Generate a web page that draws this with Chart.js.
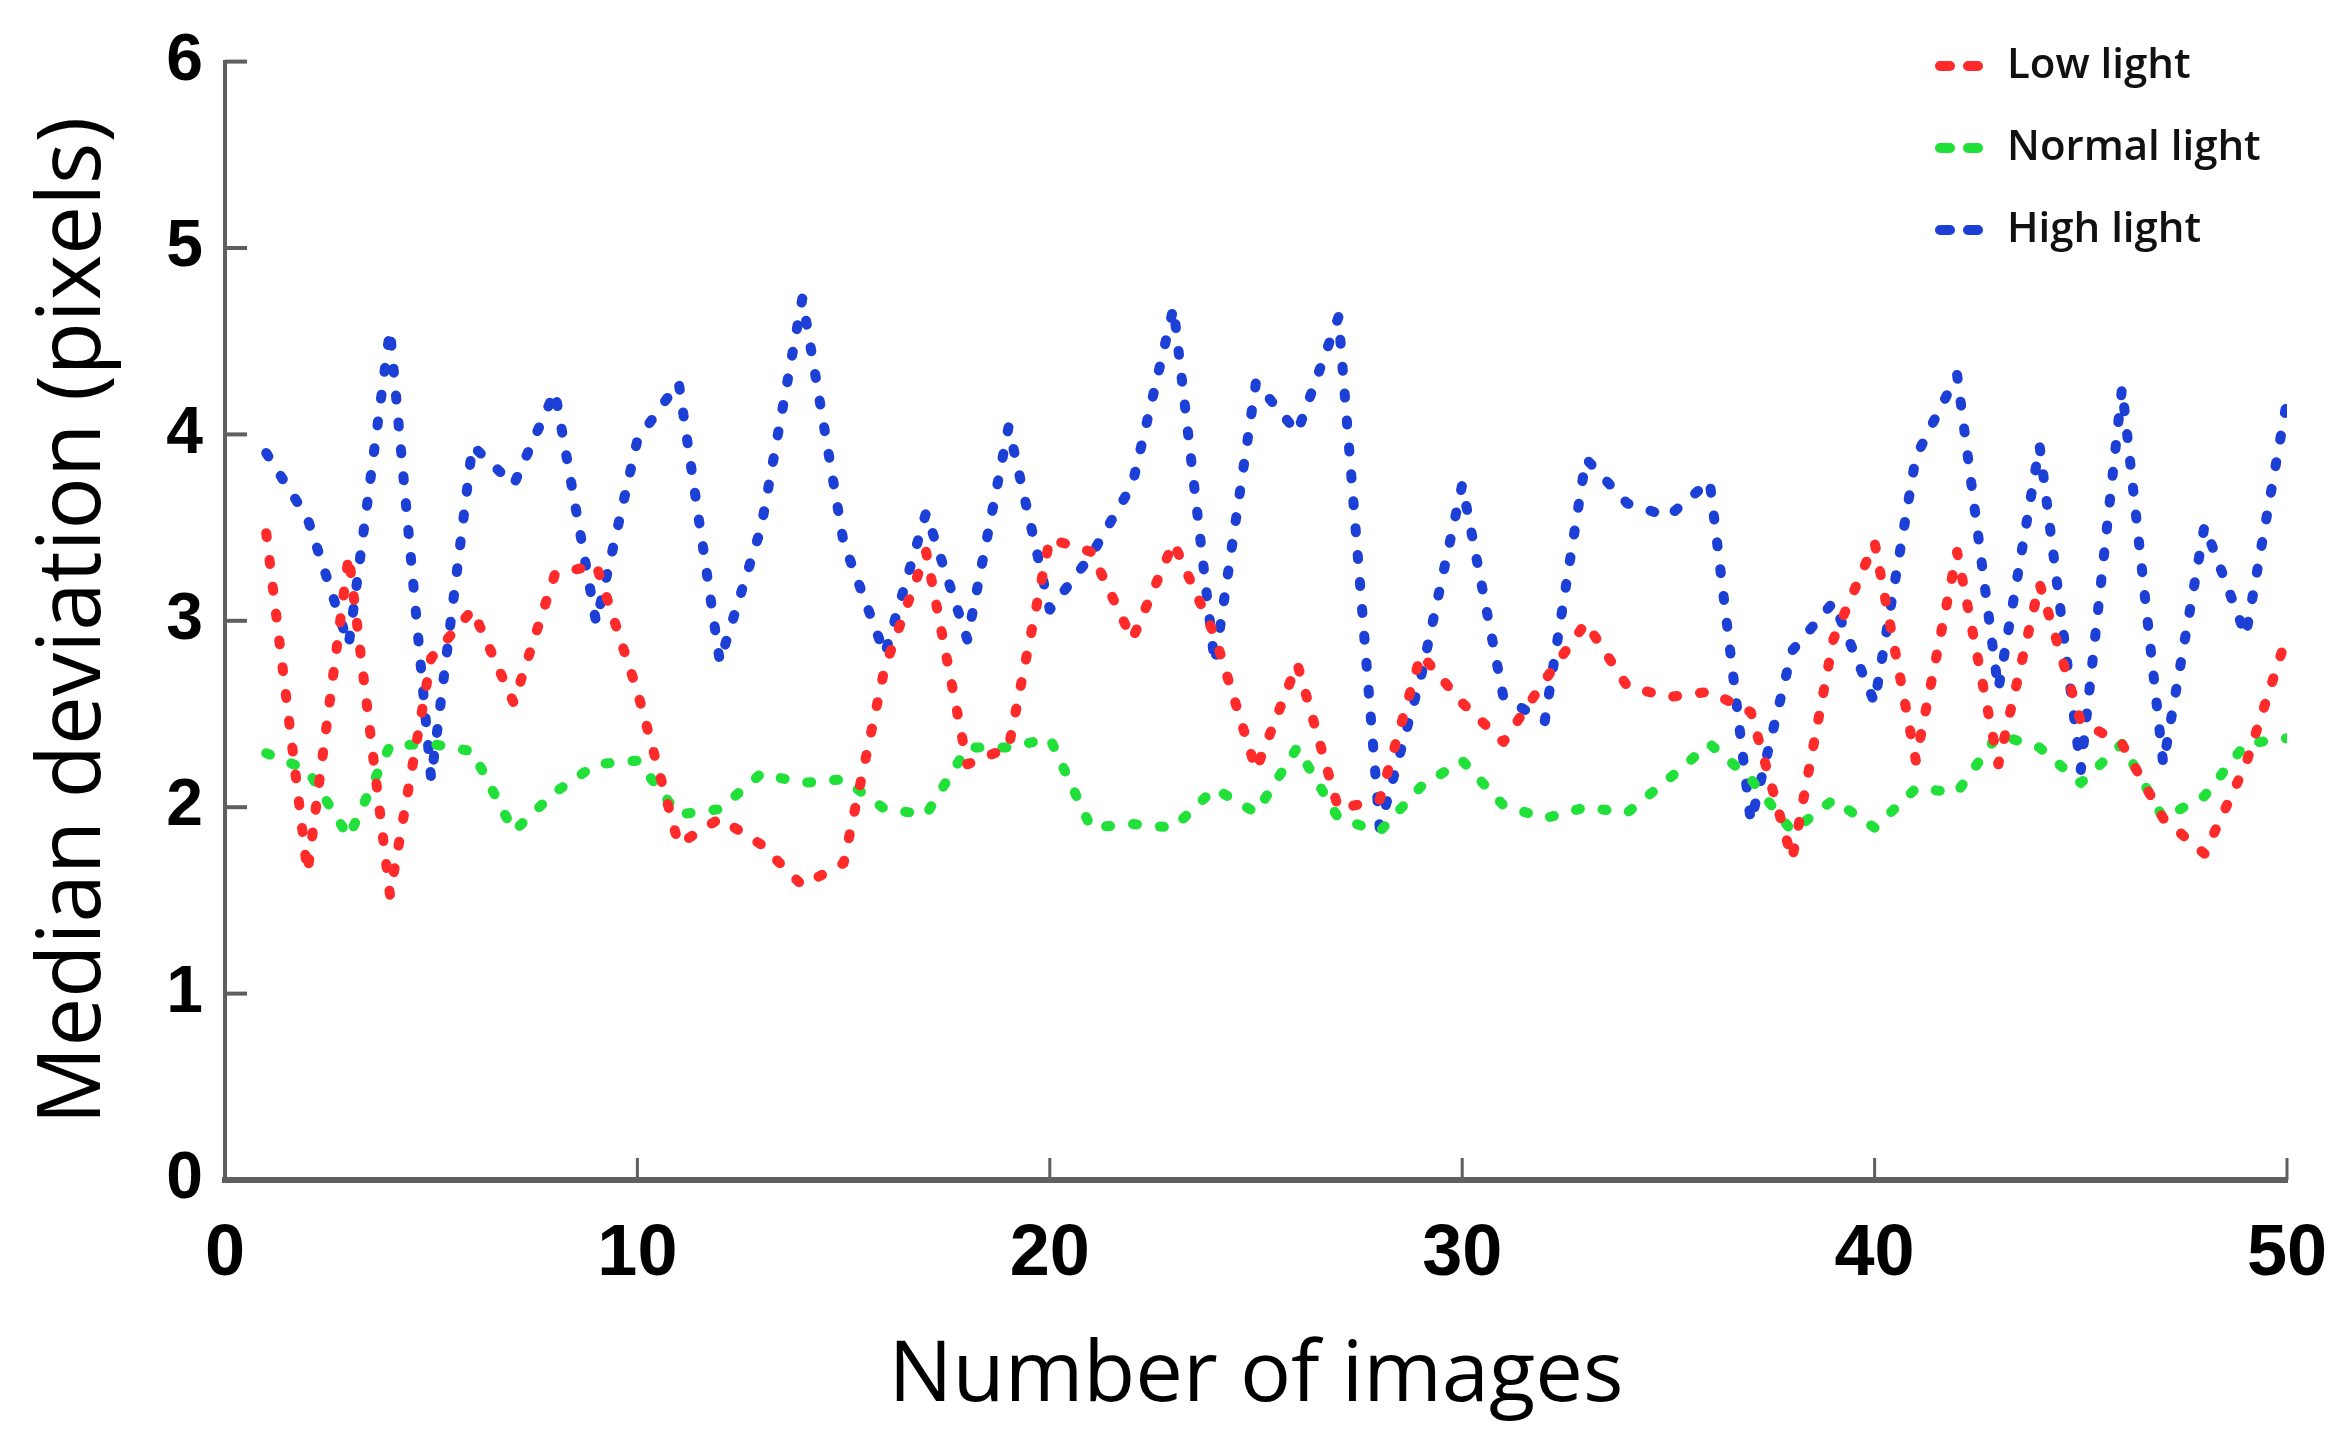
<!DOCTYPE html>
<html>
<head>
<meta charset="utf-8">
<script src="https://cdn.jsdelivr.net/npm/chart.js@4.4.1/dist/chart.umd.min.js"></script>
<style>
  html, body { margin: 0; padding: 0; background: #fff; overflow: hidden; }
  #wrap { width: 2351px; height: 1453px; position: relative; }
  canvas { display: block; }
</style>
</head>
<body>
<div id="wrap"><canvas id="devChart"></canvas></div>
<script>
// values, one per image count
const imageCounts = [1, 2, 3, 4, 5, 6, 7, 8, 9, 10, 11, 12, 13, 14, 15, 16, 17, 18, 19, 20,
    21, 22, 23, 24, 25, 26, 27, 28, 29, 30, 31, 32, 33, 34, 35, 36, 37, 38, 39, 40,
    41, 42, 43, 44, 45, 46, 47, 48, 49, 50];
const lowLight = [3.47, 1.65, 3.35, 1.53, 2.8, 3.06, 2.56, 3.25, 3.3, 2.62,
    1.8, 1.94, 1.8, 1.58, 1.7, 2.75, 3.37, 2.23, 2.32, 3.44,
    3.37, 2.9, 3.42, 2.92, 2.2, 2.77, 1.99, 2.04, 2.82, 2.56,
    2.35, 2.68, 2.99, 2.65, 2.59, 2.62, 2.51, 1.72, 2.9, 3.42,
    2.25, 3.37, 2.23, 3.2, 2.46, 2.34, 1.94, 1.75, 2.23, 2.92];
const normalLight = [2.29, 2.2, 1.84, 2.33, 2.34, 2.3, 1.87, 2.08, 2.23, 2.25,
    1.96, 1.99, 2.18, 2.13, 2.15, 1.99, 1.96, 2.32, 2.32, 2.37,
    1.89, 1.91, 1.89, 2.1, 1.97, 2.32, 1.94, 1.87, 2.11, 2.25,
    2.01, 1.94, 2.0, 1.97, 2.15, 2.34, 2.15, 1.87, 2.04, 1.89,
    2.1, 2.08, 2.39, 2.32, 2.13, 2.34, 1.94, 2.06, 2.34, 2.37];
const highLight = [3.9, 3.55, 2.87, 4.56, 2.15, 3.94, 3.73, 4.23, 2.99, 3.97,
    4.28, 2.78, 3.5, 4.73, 3.42, 2.82, 3.58, 2.9, 4.04, 3.06,
    3.35, 3.73, 4.68, 2.77, 4.28, 4.01, 4.63, 1.89, 2.7, 3.73,
    2.59, 2.46, 3.87, 3.63, 3.56, 3.75, 1.92, 2.84, 3.1, 2.56,
    3.88, 4.32, 2.63, 3.94, 2.2, 4.25, 2.23, 3.51, 2.92, 4.18];
const seriesNames = ['Low light', 'Normal light', 'High light'];
const xTicks = [0, 10, 20, 30, 40, 50];
const yTicks = [0, 1, 2, 3, 4, 5, 6];

const axisGray = '#5f5f5f';
const toPoints = vals => vals.map((v, i) => ({ x: imageCounts[i], y: v }));

function lineSet(label, vals, color) {
    return {
        label: label, data: toPoints(vals),
        borderColor: color, backgroundColor: color,
        borderWidth: 10, borderDash: [4, 23], borderCapStyle: 'round', borderJoinStyle: 'round',
        pointRadius: 0, tension: 0, fill: false
    };
}

// short tick marks drawn inward, like the original figure
const inwardTicks = {
    id: 'inwardTicks',
    afterDraw(chart) {
        const { ctx, chartArea: a, scales: { x, y } } = chart;
        ctx.save();
        ctx.strokeStyle = axisGray;
        ctx.lineWidth = 4;
        yTicks.forEach(v => {
            const py = y.getPixelForValue(v);
            ctx.beginPath(); ctx.moveTo(a.left, py); ctx.lineTo(a.left + 22, py); ctx.stroke();
        });
        ctx.lineWidth = 3;
        xTicks.forEach(v => {
            const px = x.getPixelForValue(v);
            ctx.beginPath(); ctx.moveTo(px, a.bottom); ctx.lineTo(px, a.bottom - 22); ctx.stroke();
        });
        ctx.restore();
    }
};

// legend box in the top-right corner of the plot
const cornerLegend = {
    id: 'cornerLegend',
    afterDraw(chart) {
        const ctx = chart.ctx;
        ctx.save();
        chart.data.datasets.forEach((ds, i) => {
            const yy = 66 + i * 82;
            ctx.strokeStyle = ds.borderColor;
            ctx.lineWidth = 10;
            ctx.lineCap = 'round';
            ctx.setLineDash([10, 18]);
            ctx.beginPath(); ctx.moveTo(1940, yy); ctx.lineTo(1988, yy); ctx.stroke();
            ctx.setLineDash([]);
            ctx.fillStyle = '#111';
            ctx.font = '600 42px "Open Sans"';
            ctx.textAlign = 'left';
            ctx.textBaseline = 'middle';
            ctx.fillText(ds.label, 2007, yy);
        });
        ctx.restore();
    }
};

new Chart(document.getElementById('devChart'), {
    type: 'line',
    data: {
        datasets: [
            lineSet(seriesNames[0], lowLight, '#ff2b2b'),
            lineSet(seriesNames[1], normalLight, '#22e03a'),
            lineSet(seriesNames[2], highLight, '#1c3fd6')
        ]
    },
    options: {
        responsive: true, maintainAspectRatio: false, animation: false,
        layout: { padding: { left: 0, right: 64, top: 57, bottom: 0 } },
        plugins: { legend: { display: false }, tooltip: { enabled: false } },
        scales: {
            x: {
                type: 'linear', min: 0, max: 50,
                afterFit: s => { s.height = 273; s.paddingLeft = 0; s.paddingRight = 0; },
                afterBuildTicks: s => { s.ticks = xTicks.map(v => ({ value: v })); },
                grid: { display: false, drawTicks: false },
                border: { display: true, color: axisGray, width: 6 },
                ticks: { color: '#000', padding: 32, maxRotation: 0, font: { family: 'Liberation Sans', weight: 'bold', size: 72 } },
                title: { display: true, text: 'Number of images', color: '#000', padding: { top: 0, bottom: 25 }, font: { family: 'Open Sans', size: 85 } }
            },
            y: {
                min: 0, max: 6,
                afterFit: s => { s.width = 225; },
                afterBuildTicks: s => { s.ticks = yTicks.map(v => ({ value: v })); },
                grid: { display: false, drawTicks: false },
                border: { display: true, color: axisGray, width: 4 },
                ticks: { color: '#000', padding: 22, font: { family: 'Liberation Sans', weight: 'bold', size: 66 } },
                title: { display: true, text: 'Median deviation (pixels)', color: '#000', padding: { top: 23, bottom: 0 }, font: { family: 'Open Sans', size: 87 } }
            }
        }
    },
    plugins: [inwardTicks, cornerLegend]
});
</script>
</body>
</html>
